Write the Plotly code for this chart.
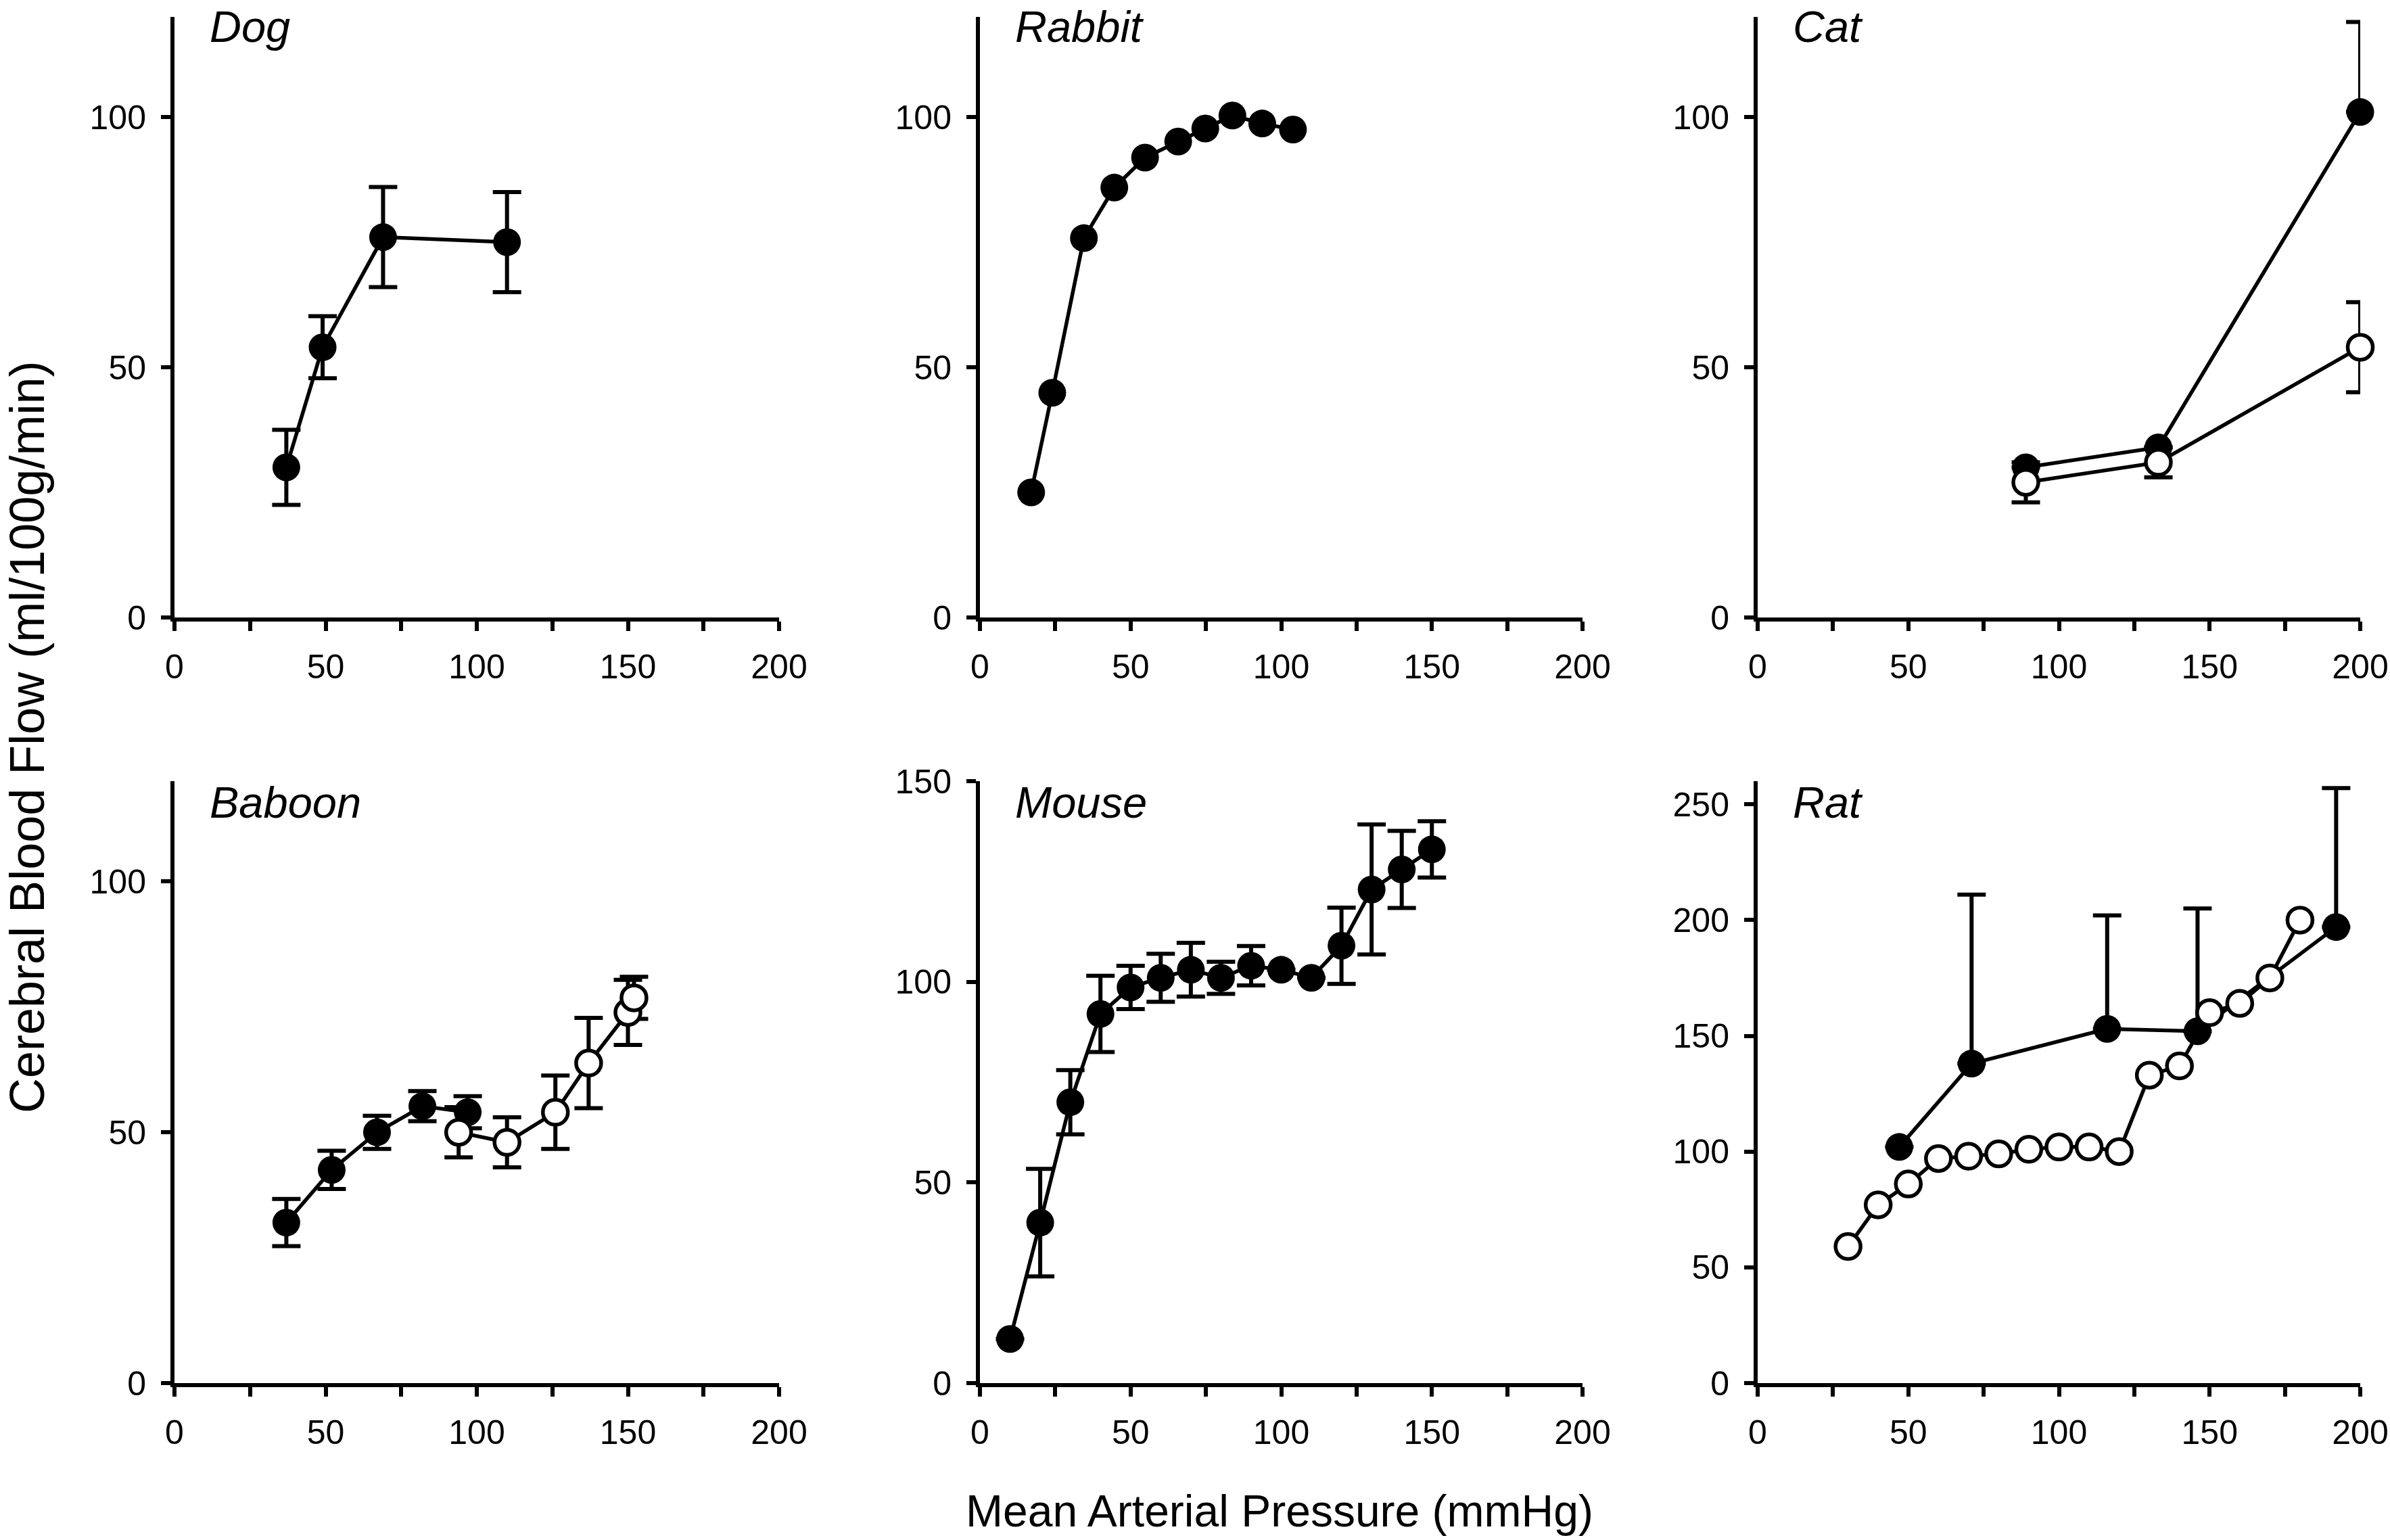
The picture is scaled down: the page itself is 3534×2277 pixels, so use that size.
import plotly.graph_objects as go

# ---------------- data ----------------
dog_x = [37, 49, 69, 110]
dog_y = [30, 54, 76, 75]
dog_err = [7.5, 6.2, 10, 10]

rabbit_x = [17, 24, 34.5, 44.6, 54.8, 65.8, 74.8, 83.8, 93.7, 103.9]
rabbit_y = [25, 44.9, 75.8, 85.9, 91.9, 95.1, 97.7, 100.3, 98.7, 97.5]

cat_filled_x = [89, 133, 200]
cat_filled_y = [30, 34, 101]
cat_filled_err_plus = [None, None, 18]
cat_open_x = [89, 133, 200]
cat_open_y = [27, 31, 54]
cat_open_err = [4, 3, 9]

baboon_filled_x = [37, 52, 67, 82, 97]
baboon_filled_y = [32, 42.5, 50, 55.2, 54]
baboon_filled_err = [4.7, 3.8, 3.3, 3.0, 3.2]
baboon_open_x = [94, 110, 126, 137, 150, 152]
baboon_open_y = [50, 48, 54, 63.8, 73.9, 76.8]
baboon_open_err = [5, 5, 7.3, 9, 6.5, 4.2]

mouse_x = [10, 20, 30, 40, 50, 60, 70, 80, 90, 100, 110, 120, 130, 140, 150]
mouse_y = [11, 40, 70, 92, 98.6, 101, 103, 101, 104, 103, 101, 109, 123, 128, 133]
mouse_err = [None, 13.4, 8, 9.5, 5.4, 6, 6.7, 4, 4.9, None, None, 9.5, 16.2, 9.6, 7]

rat_filled_x = [47, 71, 116, 146, 192]
rat_filled_y = [102, 138, 153, 152, 197]
rat_filled_err_plus = [None, 73, 49, 53, 60]
rat_open_x = [30, 40, 50, 60, 70, 80, 90, 100, 110, 120, 130, 140, 150, 160, 170, 180]
rat_open_y = [59, 77, 86, 97, 98, 99, 101, 102, 102, 100, 133, 137, 160, 164, 175, 200]

species = ["Dog", "Rabbit", "Cat", "Baboon", "Mouse", "Rat"]
x_tickvals = [0, 25, 50, 75, 100, 125, 150, 175, 200]
x_ticktext = ["0", "", "50", "", "100", "", "150", "", "200"]
y_ranges = [120, 120, 120, 120, 150, 260]
y_tickvals = [[0, 50, 100], [0, 50, 100], [0, 50, 100], [0, 50, 100],
              [0, 50, 100, 150], [0, 50, 100, 150, 200, 250]]
x_title = "Mean Arterial Pressure (mmHg)"
y_title = "Cerebral Blood Flow (ml/100g/min)"

# ---------------- layout geometry ----------------
W, H = 3534, 2277
FONT = "Liberation Sans, Arial, sans-serif"
cols_px = [(258, 1152), (1449, 2340), (2599, 3490)]
rows_px = [(25, 913), (1155, 2045)]
label_top_px = [1, 1148]

def px_x(p):
    return p / W

def px_y(p):
    return 1 - p / H

LW = 6
FILLED = dict(size=41, color="black", line=dict(width=0))
OPEN = dict(size=37, color="white", line=dict(color="black", width=5.5))

fig = go.Figure()

def add(i, x, y, marker, err=None, err_plus=None):
    kw = {}
    if err is not None:
        kw["error_y"] = dict(type="data", array=err, symmetric=True, color="black",
                             thickness=LW, width=21)
    if err_plus is not None:
        kw["error_y"] = dict(type="data", array=err_plus,
                             arrayminus=[None] * len(err_plus), symmetric=False,
                             color="black", thickness=LW, width=21)
    fig.add_trace(go.Scatter(x=x, y=y, mode="lines+markers",
                             xaxis=f"x{i}", yaxis=f"y{i}",
                             line=dict(color="black", width=LW - 0.5),
                             marker=marker, cliponaxis=False,
                             showlegend=False, hoverinfo="skip", **kw))

add(1, dog_x, dog_y, FILLED, err=dog_err)
add(2, rabbit_x, rabbit_y, FILLED)
add(3, cat_filled_x, cat_filled_y, FILLED, err_plus=cat_filled_err_plus)
add(3, cat_open_x, cat_open_y, OPEN, err=cat_open_err)
add(4, baboon_filled_x, baboon_filled_y, FILLED, err=baboon_filled_err)
add(4, baboon_open_x, baboon_open_y, OPEN, err=baboon_open_err)
add(5, mouse_x, mouse_y, FILLED, err=mouse_err)
add(6, rat_filled_x, rat_filled_y, FILLED, err_plus=rat_filled_err_plus)
add(6, rat_open_x, rat_open_y, OPEN)

layout = dict(template="none", width=W, height=H, margin=dict(l=0, r=0, t=0, b=0, pad=0),
              plot_bgcolor="white", paper_bgcolor="white", showlegend=False,
              font=dict(family=FONT, color="black"))
annotations = []
for k in range(6):
    i = k + 1
    r, c = divmod(k, 3)
    x0, x1 = cols_px[c]
    y0, y1 = rows_px[r]
    axis_common = dict(showline=True, linewidth=LW, linecolor="black",
                       ticks="outside", ticklen=14, tickwidth=LW, tickcolor="black",
                       showgrid=False, zeroline=False, fixedrange=True, automargin=False,
                       tickfont=dict(family=FONT, size=50, color="black"))
    layout[f"xaxis{i}"] = dict(domain=[px_x(x0), px_x(x1)], range=[0, 200],
                               tickvals=x_tickvals, ticktext=x_ticktext,
                               ticklabelstandoff=10,
                               anchor=f"y{i}", **axis_common)
    layout[f"yaxis{i}"] = dict(domain=[px_y(y1), px_y(y0)], range=[0, y_ranges[k]],
                               tickvals=y_tickvals[k],
                               ticktext=[str(v) for v in y_tickvals[k]],
                               ticklabelstandoff=12,
                               anchor=f"x{i}", **axis_common)
    annotations.append(dict(text=f"<i>{species[k]}</i>", xref="paper", yref="paper",
                            x=px_x(x0 + 50), y=px_y(label_top_px[r]), xanchor="left",
                            yanchor="top", showarrow=False,
                            font=dict(family=FONT, size=65, color="black")))

annotations.append(dict(text=x_title, xref="paper", yref="paper",
                        x=px_x(1892), y=px_y(2234), xanchor="center", yanchor="middle",
                        showarrow=False, font=dict(family=FONT, size=66, color="black")))
annotations.append(dict(text=y_title, xref="paper", yref="paper",
                        x=px_x(40), y=px_y(1090), xanchor="center", yanchor="middle",
                        textangle=-90, showarrow=False,
                        font=dict(family=FONT, size=72, color="black")))
layout["annotations"] = annotations
fig.update_layout(**layout)

fig.write_html("out.html", post_script="document.body.style.margin='0';",
               config={"displayModeBar": False})
